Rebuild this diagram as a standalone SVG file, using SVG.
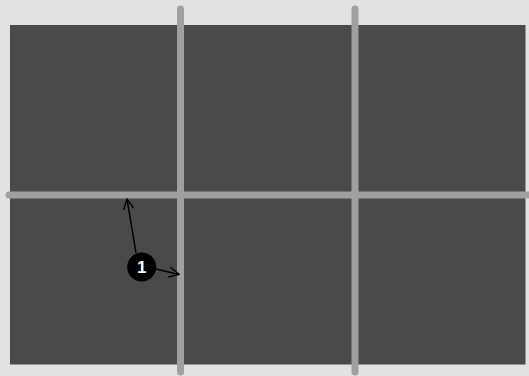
<svg xmlns="http://www.w3.org/2000/svg" width="529" height="376" viewBox="0 0 529 376">
<defs>
<style>
.grid{stroke:#a0a0a0;stroke-width:7;stroke-linecap:round;fill:none}
.arr{stroke:#000;stroke-width:1.5;fill:none;marker-end:url(#open)}
</style>
<marker id="open" viewBox="0 0 12 12" refX="11" refY="6" markerWidth="12" markerHeight="12" markerUnits="userSpaceOnUse" orient="auto">
<path d="M1,1 L11,6 L1,11" fill="none" stroke="#000" stroke-width="1.4"/>
</marker>
</defs>
<rect width="529" height="376" fill="#e2e2e2"/>
<g id="panel">
<rect x="10" y="25" width="515.5" height="339.5" fill="#4a4a49"/>
</g>
<g id="gridlines">
<line class="grid" x1="180.5" y1="9" x2="180.5" y2="372"/>
<line class="grid" x1="355" y1="9" x2="355" y2="372"/>
<line class="grid" x1="9" y1="195" x2="535" y2="195"/>
</g>
<g id="connectors">
<line class="arr" x1="136" y1="253" x2="127" y2="199"/>
<line class="arr" x1="156" y1="269" x2="179" y2="274.5"/>
</g>
<g id="callout">
<circle cx="141.7" cy="267" r="14.5" fill="#000"/>
<text x="141.7" y="272.5" text-anchor="middle" font-family="Liberation Sans, Arial, sans-serif" font-size="17" font-weight="bold" fill="#fff">1</text>
</g>
</svg>
